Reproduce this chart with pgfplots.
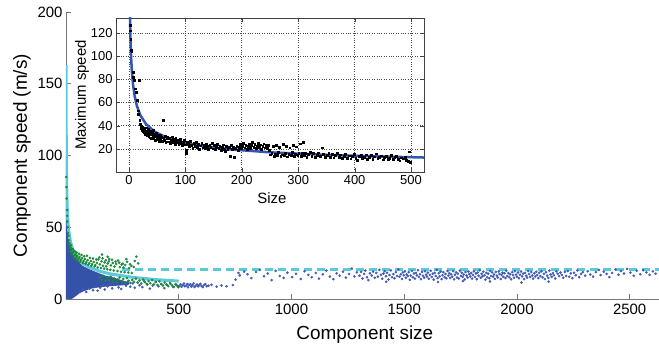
\documentclass[border=0pt]{standalone}
\usepackage{fontspec}
\setmainfont{Liberation Sans}
\usepackage{pgfplots}
\pgfplotsset{compat=1.18}
\definecolor{bluefill}{RGB}{52,82,168}
\definecolor{bluedot}{RGB}{66,90,182}
\definecolor{greendot}{RGB}{28,138,58}
\definecolor{cyanl}{RGB}{92,200,222}
\definecolor{insetblue}{RGB}{48,86,184}
\definecolor{axgray}{RGB}{120,120,120}
\begin{document}
\begin{tikzpicture}
\useasboundingbox (-66bp,-46bp) rectangle (593bp,299bp);
\begin{axis}[
  at={(0,0)}, anchor=south west, scale only axis,
  width=593bp, height=287bp,
  xmin=0, xmax=2630, ymin=0, ymax=200,
  axis x line*=bottom, axis y line*=left,
  axis line style={axgray, line width=0.8bp},
  xtick={500,1000,1500,2000,2500}, ytick={0,50,100,150,200},
  tick align=inside, major tick length=5bp,
  tick style={axgray, line width=0.8bp},
  /pgf/number format/assume math mode=true,
  /pgf/number format/1000 sep={},
  ticklabel style={font=\fontsize{15}{18}\selectfont},
  xticklabel style={yshift=-2bp},
  xlabel={Component size}, ylabel={Component speed (m/s)},
  label style={font=\fontsize{19}{22}\selectfont},
  xlabel style={at={(axis description cs:0.504,-0.125)}, anchor=center},
  ylabel style={at={(axis description cs:-0.0742,0.5)}, anchor=center},
  clip=true,
]
% dense blue region
\addplot[fill=bluefill, draw=none] coordinates {
(0,0) (0,100) (1,97) (2,75) (4,60) (6,52) (10,43) (15,38) (20,35) (30,31) (50,27) (75,23) (100,21) (130,19) (170,16.5) (210,15) (250,13) (280,11.5)
(280,10) (250,9.5) (200,9) (150,8.2) (110,7.2) (80,5.5) (60,4) (45,2.2) (35,1) (25,0)
};
% dashed cyan line
\addplot[cyanl, line width=3bp, dash pattern=on 8bp off 5bp] coordinates {(250,20.5) (2630,20.5)};
% sparse blue dots
\addplot[only marks, mark=*, mark size=1.1bp, color=bluedot, mark options={draw=none, fill=bluedot}] coordinates {
(60,5.5) (75,6.8) (90,4.9) (105,7.2) (120,6.1) (128,8.4) (140,5.8) (152,7.9) (165,9.3) (172,6.6) (185,8.8) (193,10.4) (205,7.4) (214,9.9) (226,11.2) (233,8.1) (245,6.9) (252,10.6) (266,9.2) (274,12.1) (285,8.6) (297,10.9) (305,7.8) (318,11.5) (326,9.6) (339,8.3) (347,12.4) (360,10.1) (372,7.2) (385,9.4) (398,11.8) (410,8.9) (423,10.3) (436,7.6) (448,9.8) (462,11.1) (475,8.4) (488,10.0)
(502,9.1) (508,10.2) (512,8.5) (518,9.7) (523,10.8) (527,8.9) (533,9.4) (538,10.5) (541,8.2) (546,9.9) (552,10.3) (556,8.7) (561,9.5) (566,10.9) (570,8.4) (575,9.2) (581,10.1) (586,8.8) (590,9.6) (596,10.6) (601,9.0) (607,8.3) (612,9.8) (618,10.4) (624,8.9) (632,9.3) (645,9.9) (668,8.6) (690,9.4) (712,8.9) (740,9.7)
(752,13.5) (765,18.2) (771,16.4) (790,19.1) (805,17.3) (822,14.6) (843,18.8) (860,20.4) (878,15.9) (895,17.8) (912,13.2) (930,19.6) (948,16.1) (965,14.7) (982,18.4) (1003,15.2) (1020,17.6) (1041,13.9) (1058,19.3) (1075,16.8) (1090,15.1) (1108,18.1) (1122,14.2) (1139,17.2) (1155,19.8) (1170,15.6) (1186,13.8) (1200,17.9) (1214,16.3) (1228,19.0) (1241,14.9) (1255,17.4) (1268,21.2) (1279,15.8) (1290,18.6)
(1302,16.2) (1309,18.9) (1315,14.3) (1322,17.5) (1328,19.8) (1335,15.1) (1341,13.2) (1348,17.9) (1356,16.4) (1362,19.1) (1369,14.8) (1376,18.2) (1383,15.6) (1390,20.3) (1397,16.9)
(1403,14.1) (1408,17.7) (1413,19.4) (1419,15.8) (1424,18.3) (1430,13.6) (1435,16.7) (1441,19.9) (1446,15.2) (1452,17.4) (1457,14.5) (1463,18.8) (1468,16.1) (1474,20.6) (1479,15.5) (1485,17.2) (1490,13.9) (1494,18.5) (1498,16.6)
(1503,19.2) (1507,14.8) (1511,17.1) (1516,15.9) (1520,18.7) (1525,13.4) (1529,16.3) (1534,19.6) (1538,15.1) (1543,17.8) (1547,14.2) (1552,18.1) (1556,16.5) (1561,20.1) (1565,15.4) (1570,17.3) (1574,13.8) (1579,18.9) (1583,16.2) (1588,14.9) (1592,19.3) (1597,17.0)
(1601,15.6) (1605,18.4) (1609,14.1) (1614,16.8) (1618,19.7) (1622,15.3) (1627,17.6) (1631,13.5) (1635,18.2) (1640,16.0) (1644,20.4) (1648,14.6) (1653,17.9) (1657,15.8) (1661,19.0) (1666,13.9) (1670,16.6) (1674,18.7) (1679,15.2) (1683,17.4) (1687,14.4) (1692,19.5) (1696,16.3)
(1700,18.0) (1704,14.7) (1708,17.2) (1713,15.5) (1717,19.4) (1721,13.7) (1725,16.9) (1730,18.5) (1734,15.0) (1738,17.7) (1742,14.3) (1747,19.8) (1751,16.1) (1755,18.3) (1759,15.4) (1764,17.0) (1768,13.6) (1772,18.8) (1776,16.4) (1781,14.9) (1785,19.1) (1789,17.3) (1793,15.7) (1797,18.1)
(1801,14.2) (1805,16.7) (1809,19.3) (1814,15.3) (1818,17.8) (1822,13.8) (1826,18.4) (1830,16.2) (1835,20.0) (1839,14.8) (1843,17.5) (1847,15.9) (1851,19.0) (1856,16.5) (1860,13.5) (1864,18.2) (1868,15.1) (1873,17.6) (1877,14.5) (1881,19.6) (1885,16.0) (1890,18.6) (1894,15.6) (1898,17.1)
(1902,14.0) (1906,18.9) (1911,16.3) (1915,15.0) (1919,19.2) (1923,17.4) (1928,13.9) (1932,16.8) (1936,18.3) (1940,15.4) (1945,17.9) (1949,14.6) (1953,19.7) (1957,16.1) (1962,18.0) (1966,15.2) (1970,17.2) (1974,13.7) (1979,18.7) (1983,16.6) (1987,14.8) (1991,19.4) (1996,17.0)
(2000,15.5) (2005,18.5) (2009,14.4) (2014,16.9) (2018,19.1) (2023,15.8) (2027,17.7) (2032,13.8) (2036,18.2) (2041,16.2) (2045,14.9) (2050,19.5) (2054,17.3) (2059,15.3) (2063,18.8) (2068,16.4) (2072,14.2) (2077,17.9) (2081,15.7) (2086,19.0) (2090,16.7) (2095,14.6) (2099,18.3)
(2104,16.0) (2109,19.3) (2114,15.1) (2119,17.5) (2124,13.9) (2129,18.6) (2134,16.3) (2139,14.7) (2144,19.8) (2149,17.1) (2154,15.4) (2159,18.0) (2164,16.5) (2170,14.3) (2175,19.2) (2181,17.6) (2187,15.9) (2193,18.4) (2199,16.8)
(2205,14.8) (2212,18.9) (2218,16.1) (2225,19.5) (2232,15.5) (2239,17.8) (2246,14.5) (2253,18.3) (2261,16.6) (2268,19.9) (2276,15.2) (2284,17.4) (2292,18.7)
(2302,16.3) (2314,19.4) (2325,17.1) (2338,15.6) (2350,18.8) (2363,20.3) (2371,16.7) (2385,19.0) (2398,17.5) (2410,15.3) (2422,18.2) (2437,20.6) (2450,16.9) (2461,19.5) (2475,17.8) (2489,21.0) (2503,18.4) (2518,16.2) (2531,19.7) (2547,17.3) (2560,20.1) (2574,18.5) (2588,16.8) (2603,19.3) (2615,17.6)
(1650,11.8) (1880,12.2) (2020,11.5) (1420,12.0) (1760,12.5) (2140,12.1)
};
% green dots
\addplot[only marks, mark=*, mark size=1.1bp, color=greendot, mark options={draw=none, fill=greendot}] coordinates {
(1,85) (2,78) (3,70) (4,62) (5,58) (6,54) (8,50) (9,46) (11,44) (13,41) (15,39) (17,37) (20,36) (23,34) (26,35) (29,32) (33,33) (37,30.5) (41,31) (45,29) (50,30.2) (55,28) (60,29.3) (66,27.4) (72,28.6) (78,26.5) (84,27.8) (90,25.7) (96,27.1) (103,24.9) (110,26.4) (116,24.3) (123,25.8) (130,23.6) (137,25.2) (143,27.6) (150,24.1) (157,26.3) (164,23.2) (171,25.5) (178,22.8) (185,24.7) (192,27.9) (199,23.4) (207,25.1) (215,22.6) (223,24.4) (231,26.8) (239,22.2) (247,24.0) (255,21.9) (263,23.7) (271,25.9) (280,21.6) (290,23.1) (300,22.3) (312,29.5) (320,24.8) (160,31) (185,29.4)
(12,38.5) (18,33) (22,37.5) (27,31) (31,34.6) (35,28.8) (39,33.2) (43,27.9) (48,32.4) (53,26.6) (58,31.5) (63,25.9) (69,30.7) (75,25.1) (81,29.8) (87,24.6) (93,30.1) (99,23.9) (106,28.7) (113,23.1) (120,28.2) (127,22.7) (134,27.5) (141,22.0) (148,29.0) (155,21.5) (162,28.3) (169,21.2) (176,27.0) (183,20.8) (190,26.2) (197,20.3) (204,27.3) (212,19.9) (220,26.0) (228,19.5) (236,25.3) (244,19.0) (252,24.6) (260,18.7) (268,27.8) (276,18.4) (284,24.2) (292,18.1) (305,26.5)
(150,15.2) (158,13.4) (166,16.1) (174,12.8) (182,14.7) (190,13.1) (198,15.5) (206,12.2) (214,14.3) (222,11.9) (230,13.6) (238,15.0) (246,12.4) (254,13.9) (262,11.5) (270,14.6) (278,12.7) (286,11.1) (294,13.3) (302,12.0) (310,14.2) (318,11.4) (326,12.9) (334,10.8) (342,13.5) (350,11.7) (358,10.4) (366,12.6) (374,11.0) (382,13.1) (390,10.2) (398,11.9) (406,9.8) (414,12.3) (422,10.6) (430,9.4) (438,11.5) (446,10.1) (454,8.9) (462,10.8) (470,9.6) (478,8.4) (486,10.3) (494,9.1) (498,8.2)
};
% cyan fit curve
\addplot[cyanl, line width=3bp] coordinates {
(0.4,163) (1,117) (2,91) (3,79) (5,65.6) (8,55.3) (12,47.8) (20,39.8) (30,34.4) (50,28.6) (75,24.7) (100,22.3) (150,19.3) (200,17.4) (300,15.0) (400,13.5) (500,12.5)
};
\end{axis}
\begin{axis}[
  at={(50bp,127bp)}, anchor=south west, scale only axis,
  width=308bp, height=154bp,
  xmin=-23, xmax=523, ymin=0, ymax=133,
  axis background/.style={fill=white},
  axis line style={black!75, line width=0.7bp},
  xtick={0,100,...,500}, ytick={20,40,...,120},
  tick align=inside, major tick length=4bp,
  tick style={black!75},
  grid=major, grid style={black!70, dotted, line width=0.6bp},
  /pgf/number format/assume math mode=true,
  ticklabel style={font=\fontsize{13}{15}\selectfont},
  xlabel={Size}, ylabel={Maximum speed},
  label style={font=\fontsize{15}{18}\selectfont},
  xlabel style={at={(axis description cs:0.506,-0.169)}, anchor=center},
  ylabel style={at={(axis description cs:-0.110,0.5)}, anchor=center},
  clip=true,
]
\addplot[only marks, mark=square*, mark size=0.9bp, black, mark options={draw=none, fill=black}] coordinates {
(2,127) (2.5,122) (3,115) (4,105) (5,104.5) (7,86) (8,82) (9,79) (11,72) (13,69) (14,62) (16,53) (17,50) (18,79.5) (19,45) (20,41) (21,38) (22,40) (23,36)
(24,39) (25,35.5) (26,37.8) (27,33.9) (28,36.6) (29,32.8) (30,35.1) (31,38.2) (32,31.9) (33,34.4) (34,36.9) (35,30.8) (36,33.6) (37,29.7) (38,35.3) (39,32.2) (40,28.9) (41,34.0) (42,31.1) (43,36.2) (44,29.5) (45,32.7) (46,27.8) (47,30.9) (48,33.8) (49,28.4) (50,31.6) (52,29.2) (53,26.9) (55,32.1) (56,28.0) (57,30.4) (59,26.5) (60,29.6) (61,44.5) (62,27.4) (64,31.0) (65,25.8) (67,28.7) (68,30.2) (70,26.1) (71,28.9) (73,24.9) (74,27.6) (76,30.5) (77,25.5) (79,28.1) (80,26.7) (82,24.3) (83,29.4) (85,25.9) (86,27.3) (88,23.8) (89,26.4) (91,28.6) (92,24.6) (94,26.0) (95,22.9) (97,25.2) (98,27.7) (100,23.5) (101,16.5) (102,18.5) (103,25.8)
(105,24.1) (107,21.9) (109,26.3) (111,23.0) (113,20.8) (115,24.7) (117,22.4) (119,25.5) (121,21.3) (123,23.9) (125,19.8) (127,22.7) (129,25.1) (131,21.0) (133,23.4) (135,20.4) (137,24.0) (139,22.1) (141,19.5) (143,23.1) (145,21.6) (147,24.8) (149,20.1) (151,22.9) (153,19.2) (155,21.7) (157,23.8) (159,20.6) (161,22.3) (163,18.9) (165,21.2) (167,23.5) (169,20.0) (171,17.8) (173,22.0) (175,19.4) (177,21.4) (179,13.5) (181,23.2) (183,19.9) (185,21.8) (187,12.5) (189,20.5) (191,22.6) (193,19.0) (195,21.1) (197,23.9) (199,20.2) (201,22.4) (203,24.6) (205,21.0) (207,23.3) (209,19.6) (211,22.0) (213,24.2) (215,20.7) (217,23.0) (219,25.4) (221,21.5) (223,23.8) (225,20.3) (227,22.6) (229,24.9) (231,21.2) (233,23.5) (235,19.9) (237,22.3) (239,24.5) (241,21.0) (243,23.2) (245,20.4) (247,22.8) (249,18.7)
(251,14.9) (253,16.2) (255,22.1) (257,13.8) (259,15.5) (261,23.4) (263,14.3) (265,16.8) (267,21.5) (269,13.5) (271,15.0) (273,24.0) (275,14.1) (277,16.4) (279,22.6) (281,13.2) (283,15.7) (285,20.9) (287,14.6) (289,16.9) (291,23.0) (293,13.9) (295,15.2) (297,21.8) (299,14.4) (301,16.5) (303,24.5) (305,13.6) (307,15.9) (309,26.0) (311,14.2) (313,16.1)
(315,13.1) (318,15.4) (321,17.2) (324,13.8) (327,15.9) (330,12.7) (333,14.6) (336,16.6) (339,13.3) (342,21.0) (345,15.2) (348,12.9) (351,14.8) (354,16.3) (357,13.0) (360,15.6) (363,12.4) (366,14.3) (369,16.0) (372,12.8) (375,14.9) (378,11.8) (381,13.9) (384,15.5) (387,12.2) (390,14.1) (393,11.5) (396,13.6) (399,15.2) (402,12.0) (405,10.5) (408,13.4) (411,14.8) (414,11.7) (417,13.0) (420,15.0) (423,11.2) (426,12.8) (429,14.4) (432,10.9) (435,13.2) (438,15.8) (441,11.6) (444,12.9) (447,14.0) (450,10.6) (453,12.5) (456,13.8) (459,11.3) (462,12.1) (465,14.6) (468,10.8) (471,12.7) (474,13.5) (477,11.0) (480,9.8) (483,12.4) (486,11.5) (489,13.1) (492,10.2) (495,9.2) (497,17.5) (499,8.6)
};
\addplot[insetblue, line width=2.5bp] coordinates {
(1.5,146) (2.5,117.7) (3.5,102) (5,88) (7,76.4) (10,65.8) (14,57.1) (20,49.2) (30,41.5) (45,35) (65,30) (90,26.1) (130,22.4) (180,19.5) (250,17.0) (330,15.2) (420,13.7) (523,12.5)
};
\end{axis}
\end{tikzpicture}
\end{document}
